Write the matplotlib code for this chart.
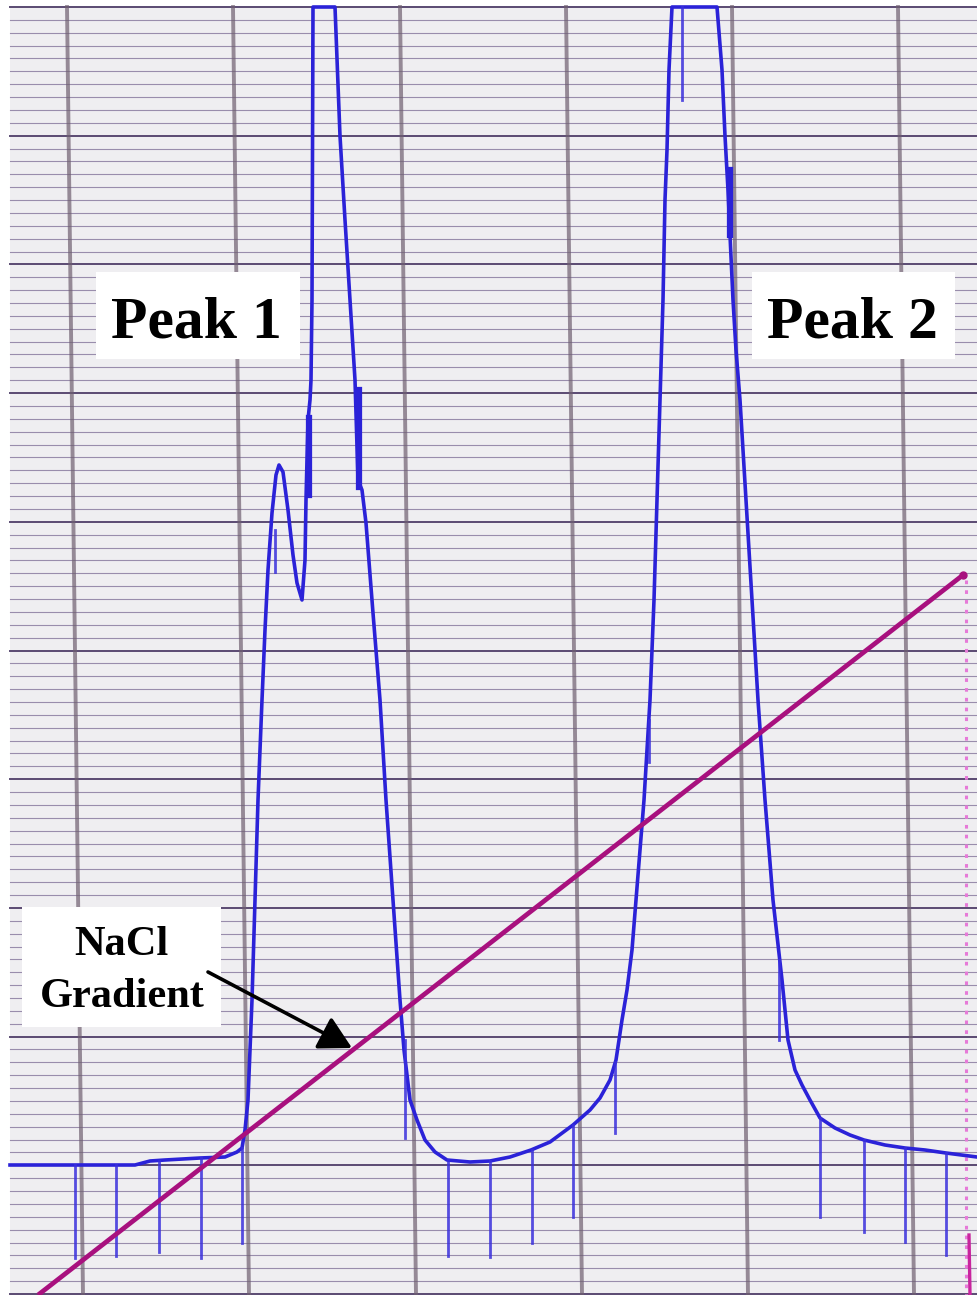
import matplotlib.pyplot as plt
from matplotlib.patches import Rectangle
import numpy as np

# chart recorder trace (x along the paper, y = pen position from top edge)
trace_x = [10, 75, 135, 150, 165, 200, 225, 237, 242, 245, 248, 252, 255, 258, 262, 265, 268, 272, 276, 279,
           283, 288, 293, 297, 302, 305, 306, 308, 310, 311, 312, 313, 335, 340, 345, 350, 355, 358, 362, 366,
           373, 380, 386, 393, 400, 404, 410, 417, 425, 435, 447, 470, 490, 510, 531, 550, 573, 590, 600, 610,
           616, 622, 627, 632, 636, 640, 644, 647, 650, 654, 657, 660, 663, 665, 667, 669, 672, 717, 722, 725,
           728, 730, 733, 736, 740, 746, 752, 758, 765, 773, 782, 788, 795, 802, 810, 820, 835, 850, 864, 885,
           905, 925, 946, 977]
trace_y = [1165, 1165, 1165, 1161, 1160, 1158, 1157, 1152, 1148, 1130, 1100, 1000, 900, 800, 700, 630, 570, 513, 475, 465,
           472, 510, 555, 583, 600, 560, 500, 420, 400, 380, 300, 7, 7, 136, 220, 300, 380, 480, 490, 523,
           613, 700, 800, 900, 1000, 1050, 1100, 1120, 1140, 1152, 1160, 1162, 1161, 1157, 1150, 1142, 1125, 1110, 1098, 1080,
           1060, 1020, 990, 950, 900, 850, 800, 750, 700, 600, 500, 400, 300, 200, 150, 70, 7, 7, 70, 136,
           190, 235, 300, 350, 400, 500, 600, 700, 800, 900, 980, 1040, 1070, 1085, 1100, 1118, 1128, 1135, 1140, 1145,
           1148, 1150, 1153, 1157]

# fraction marks (pen dips)
mark_x = [75, 116, 159, 201, 242, 275, 405, 448, 490, 532, 573, 615, 649, 682, 779, 820, 864, 905, 946]
mark_top = [1165, 1165, 1161, 1158, 1148, 530, 1040, 1160, 1161, 1150, 1125, 1062, 720, 7, 960, 1118, 1140, 1148, 1153]
mark_bot = [1258, 1256, 1252, 1258, 1243, 572, 1138, 1256, 1257, 1243, 1217, 1133, 762, 100, 1040, 1217, 1232, 1242, 1255]

# pen jitter bits
noise_x = [309, 359, 730]
noise_top = [418, 390, 170]
noise_bot = [495, 487, 235]

# NaCl gradient line
grad_x = [38, 963]
grad_y = [1295, 575]

fig = plt.figure(figsize=(9.77, 12.95), dpi=100)
fig.patch.set_facecolor("white")
ax = fig.add_axes([0, 0, 1, 1])
ax.set_xlim(0, 977)
ax.set_ylim(1295, 0)
ax.axis("off")

ax.add_patch(Rectangle((10, 7), 967, 1288, facecolor="#efeef1", edgecolor="none", zorder=0))

# paper grid
for k in range(101):
    yy = 7 + 12.87 * k
    if k % 10 == 0:
        ax.plot([10, 977], [yy, yy], color="#5a4a72", lw=1.4, zorder=1)
    else:
        ax.plot([10, 977], [yy, yy], color="#8a7ca0", lw=0.8, alpha=0.85, zorder=1)
for xv in [67, 233, 400, 566, 732, 898]:
    ax.plot([xv, xv + 16], [7, 1295], color="#6f5f70", lw=2.8, alpha=0.7, zorder=1)

# pink dotted end marker
ax.plot([966, 966], [580, 1295], color="#e67ad8", lw=2.2, ls=(0, (1.2, 2.0)), zorder=2)
ax.plot([969, 970], [1235, 1295], color="#c8259e", lw=2.4, zorder=2)

# trace
ax.plot(trace_x, trace_y, color="#2b22d8", lw=2.6, solid_joinstyle="round", zorder=4)
for x, t, b in zip(mark_x, mark_top, mark_bot):
    ax.plot([x, x], [t, b], color="#3a30dc", lw=2.0, alpha=0.85, zorder=4)
for x, t, b in zip(noise_x, noise_top, noise_bot):
    ax.plot([x, x], [t, b], color="#2b22d8", lw=4.5, zorder=4)

ax.plot(grad_x, grad_y, color="#a8107e", lw=3.4, solid_capstyle="butt", zorder=5)
ax.plot([grad_x[1]], [grad_y[1]], marker="o", ms=5, color="#a8107e", zorder=5)

# labels
fnt = ["Liberation Serif", "DejaVu Serif"]
ax.add_patch(Rectangle((96, 272), 204, 87, facecolor="white", edgecolor="none", zorder=6))
ax.add_patch(Rectangle((752, 272), 203, 87, facecolor="white", edgecolor="none", zorder=6))
ax.add_patch(Rectangle((22, 907), 199, 120, facecolor="white", edgecolor="none", zorder=6))
ax.text(196, 337, "Peak 1", family=fnt, weight="bold", fontsize=43, ha="center", va="baseline", zorder=7)
ax.text(852, 337, "Peak 2", family=fnt, weight="bold", fontsize=43, ha="center", va="baseline", zorder=7)
ax.text(121, 955, "NaCl", family=fnt, weight="bold", fontsize=30.5, ha="center", va="baseline", zorder=7)
ax.text(122, 1007, "Gradient", family=fnt, weight="bold", fontsize=30.5, ha="center", va="baseline", zorder=7)
ax.annotate("", xy=(352, 1048), xytext=(208, 972),
            arrowprops=dict(arrowstyle="-|>,head_length=1.1,head_width=0.6", mutation_scale=18,
                            lw=2.6, color="black", shrinkA=0, shrinkB=0), zorder=7)

fig.savefig("out.png", dpi=100)
